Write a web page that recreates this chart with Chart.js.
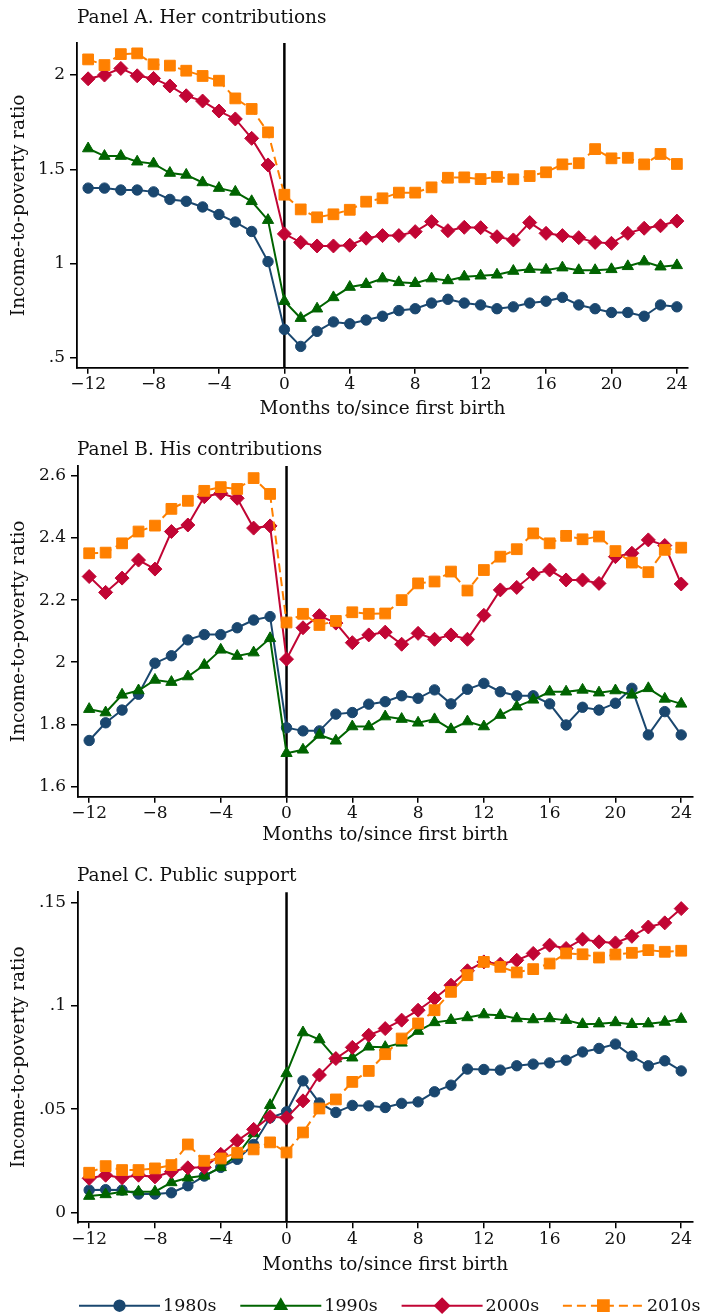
<!DOCTYPE html>
<html>
<head>
<meta charset="utf-8">
<script src="https://cdn.jsdelivr.net/npm/chart.js@4"></script>
<style>
  body { margin: 0; background: #fff; }
  .panel { position: absolute; left: 0; width: 701px; }
</style>
</head>
<body>
<div class="panel" style="top:0;height:425px"><canvas id="chartA"></canvas></div>
<div class="panel" style="top:425px;height:425px"><canvas id="chartB"></canvas></div>
<div class="panel" style="top:850px;height:466px"><canvas id="chartC"></canvas></div>
<script>
// months relative to first birth
const months = [-12, -11, -10, -9, -8, -7, -6, -5, -4, -3, -2, -1, 0, 1, 2, 3, 4, 5, 6, 7, 8, 9, 10, 11, 12, 13, 14, 15, 16, 17, 18, 19, 20, 21, 22, 23, 24];
const seriesNames = ['1980s', '1990s', '2000s', '2010s'];
const xTicks = [-12, -8, -4, 0, 4, 8, 12, 16, 20, 24];

// Panel A: her contributions
const her1980 = [1.40, 1.40, 1.39, 1.39, 1.38, 1.34, 1.33, 1.30, 1.26, 1.22, 1.17, 1.01, 0.65, 0.56, 0.64, 0.69, 0.68, 0.70, 0.72, 0.75, 0.76, 0.79, 0.81, 0.79, 0.78, 0.76, 0.77, 0.79, 0.80, 0.82, 0.78, 0.76, 0.74, 0.74, 0.72, 0.78, 0.77];
const her1990 = [1.61, 1.57, 1.57, 1.54, 1.53, 1.48, 1.47, 1.43, 1.40, 1.38, 1.33, 1.23, 0.80, 0.71, 0.76, 0.82, 0.875, 0.89, 0.92, 0.90, 0.895, 0.92, 0.91, 0.93, 0.935, 0.94, 0.96, 0.97, 0.966, 0.978, 0.964, 0.964, 0.969, 0.985, 1.01, 0.983, 0.99];
const her2000 = [1.98, 2.00, 2.035, 1.996, 1.982, 1.942, 1.89, 1.862, 1.809, 1.767, 1.664, 1.523, 1.157, 1.112, 1.093, 1.093, 1.097, 1.134, 1.148, 1.148, 1.169, 1.222, 1.174, 1.192, 1.19, 1.142, 1.125, 1.217, 1.16, 1.148, 1.137, 1.112, 1.107, 1.16, 1.187, 1.2, 1.225];
const her2010 = [2.083, 2.053, 2.111, 2.115, 2.057, 2.05, 2.023, 1.995, 1.97, 1.876, 1.82, 1.696, 1.365, 1.287, 1.245, 1.261, 1.285, 1.328, 1.346, 1.376, 1.376, 1.404, 1.455, 1.457, 1.448, 1.46, 1.447, 1.464, 1.484, 1.526, 1.532, 1.607, 1.558, 1.561, 1.526, 1.581, 1.528];

// Panel B: his contributions
const his1980 = [1.748, 1.805, 1.846, 1.897, 1.997, 2.021, 2.072, 2.089, 2.089, 2.111, 2.136, 2.147, 1.789, 1.779, 1.779, 1.833, 1.838, 1.865, 1.873, 1.892, 1.884, 1.911, 1.866, 1.913, 1.932, 1.905, 1.892, 1.892, 1.866, 1.798, 1.855, 1.846, 1.868, 1.916, 1.766, 1.841, 1.766];
const his1990 = [1.849, 1.838, 1.895, 1.909, 1.943, 1.936, 1.954, 1.991, 2.04, 2.02, 2.031, 2.077, 1.707, 1.718, 1.766, 1.747, 1.793, 1.793, 1.825, 1.817, 1.805, 1.816, 1.784, 1.809, 1.793, 1.830, 1.857, 1.879, 1.905, 1.905, 1.911, 1.902, 1.909, 1.895, 1.916, 1.882, 1.866];
const his2000 = [2.276, 2.225, 2.271, 2.329, 2.30, 2.421, 2.442, 2.533, 2.544, 2.528, 2.432, 2.439, 2.01, 2.111, 2.15, 2.126, 2.063, 2.088, 2.097, 2.058, 2.093, 2.074, 2.088, 2.074, 2.151, 2.233, 2.241, 2.284, 2.297, 2.265, 2.265, 2.254, 2.34, 2.351, 2.394, 2.376, 2.252];
const his2010 = [2.351, 2.353, 2.383, 2.421, 2.44, 2.494, 2.52, 2.552, 2.564, 2.558, 2.593, 2.542, 2.128, 2.156, 2.12, 2.133, 2.161, 2.156, 2.157, 2.2, 2.254, 2.26, 2.292, 2.231, 2.297, 2.34, 2.364, 2.415, 2.383, 2.407, 2.396, 2.405, 2.358, 2.321, 2.29, 2.362, 2.369];

// Panel C: public support
const pub1980 = [0.0108, 0.011, 0.0108, 0.0089, 0.0089, 0.0095, 0.0129, 0.0176, 0.0218, 0.0257, 0.0329, 0.0458, 0.0487, 0.0637, 0.053, 0.0484, 0.0518, 0.0516, 0.0508, 0.0528, 0.0535, 0.0584, 0.0616, 0.0694, 0.0692, 0.0689, 0.071, 0.0718, 0.0724, 0.0737, 0.0777, 0.0794, 0.0815, 0.0757, 0.071, 0.0734, 0.0685];
const pub1990 = [0.0079, 0.0087, 0.01, 0.01, 0.01, 0.0145, 0.0168, 0.0177, 0.0218, 0.0277, 0.0382, 0.0519, 0.0673, 0.0871, 0.0837, 0.0745, 0.0749, 0.0802, 0.08, 0.0821, 0.0878, 0.092, 0.0931, 0.0944, 0.0958, 0.0955, 0.0939, 0.0934, 0.0939, 0.0931, 0.0911, 0.0914, 0.092, 0.0911, 0.0914, 0.0922, 0.0936];
const pub2000 = [0.0165, 0.018, 0.0168, 0.018, 0.0172, 0.0197, 0.0216, 0.0218, 0.0281, 0.0347, 0.0402, 0.0463, 0.0458, 0.054, 0.0665, 0.0745, 0.0799, 0.0858, 0.089, 0.0931, 0.0979, 0.1036, 0.11, 0.117, 0.1213, 0.1202, 0.1221, 0.1254, 0.1294, 0.1278, 0.1323, 0.131, 0.1305, 0.1337, 0.1382, 0.1402, 0.1471];
const pub2010 = [0.0192, 0.0224, 0.0205, 0.0205, 0.0213, 0.0229, 0.0329, 0.025, 0.0261, 0.0289, 0.0305, 0.0339, 0.029, 0.0387, 0.0503, 0.0547, 0.0632, 0.0685, 0.0766, 0.0842, 0.0915, 0.0979, 0.1068, 0.1149, 0.1213, 0.1189, 0.1162, 0.1178, 0.1205, 0.1254, 0.125, 0.1234, 0.1249, 0.1257, 0.127, 0.1262, 0.1267];

// y tick labels per panel
const yTicksA = [0.5, 1, 1.5, 2];
const yLabelsA = ['.5', '1', '1.5', '2'];
const yTicksB = [1.6, 1.8, 2, 2.2, 2.4, 2.6];
const yLabelsB = ['1.6', '1.8', '2', '2.2', '2.4', '2.6'];
const yTicksC = [0, 0.05, 0.1, 0.15];
const yLabelsC = ['0', '.05', '.1', '.15'];

const FONT = 'DejaVu Serif';
const styles = [
  { color: '#1a476f', point: 'circle', r: 5.2, dash: [] },
  { color: '#006400', point: 'triangle', r: 6.5, dash: [] },
  { color: '#c10534', point: 'rectRot', r: 7, dash: [] },
  { color: '#ff8000', point: 'rect', r: 7.6, dash: [9, 5] }
];

function makeDatasets(seriesList) {
  return seriesList.map((vals, k) => ({
    label: seriesNames[k],
    data: months.map((m, i) => ({ x: m, y: vals[i] })),
    borderColor: styles[k].color,
    backgroundColor: styles[k].color,
    pointBackgroundColor: styles[k].color,
    pointBorderColor: styles[k].color,
    pointBorderWidth: 1,
    pointStyle: styles[k].point,
    pointRadius: styles[k].r,
    pointHoverRadius: styles[k].r,
    borderWidth: 2,
    borderDash: styles[k].dash,
    tension: 0,
    order: 3 - k
  }));
}

// vertical line at month 0 + panel title
const zeroLine = {
  id: 'zeroLine',
  beforeDatasetsDraw(chart) {
    const { ctx, chartArea, scales } = chart;
    const x = scales.x.getPixelForValue(0);
    ctx.save();
    ctx.strokeStyle = '#000';
    ctx.lineWidth = 2.5;
    ctx.beginPath();
    ctx.moveTo(x, chartArea.top);
    ctx.lineTo(x, chartArea.bottom);
    ctx.stroke();
    ctx.restore();
  },
  afterDraw(chart, args, opts) {
    const ctx = chart.ctx;
    ctx.save();
    ctx.fillStyle = '#111';
    ctx.font = '18.5px "' + FONT + '"';
    ctx.textBaseline = 'alphabetic';
    ctx.textAlign = 'left';
    ctx.fillText(opts.text, 77, opts.y);
    ctx.restore();
  }
};

// legend drawn under panel C: line - marker - line, then label
const legendRow = {
  id: 'legendRow',
  afterDraw(chart, args, opts) {
    if (!opts.show) return;
    const ctx = chart.ctx;
    const y = opts.y;
    chart.data.datasets.forEach((ds, k) => {
      const x0 = 79 + k * 161.3;
      ctx.save();
      ctx.strokeStyle = ds.borderColor;
      ctx.lineWidth = 2;
      ctx.setLineDash(ds.borderDash);
      ctx.beginPath();
      ctx.moveTo(x0, y);
      ctx.lineTo(x0 + 81, y);
      ctx.stroke();
      ctx.setLineDash([]);
      ctx.fillStyle = ds.backgroundColor;
      Chart.helpers.drawPoint(ctx, {
        pointStyle: ds.pointStyle, radius: ds.pointRadius, rotation: 0, borderWidth: 1
      }, x0 + 40.5, y);
      ctx.fillStyle = '#111';
      ctx.font = '17.5px "' + FONT + '"';
      ctx.textBaseline = 'middle';
      ctx.textAlign = 'left';
      ctx.fillText(ds.label, x0 + 84, y + 1);
      ctx.restore();
    });
  }
};

function makeChart(id, seriesList, cfg) {
  return new Chart(document.getElementById(id), {
    type: 'line',
    data: { datasets: makeDatasets(seriesList) },
    options: {
      responsive: true,
      maintainAspectRatio: false,
      animation: false,
      layout: { padding: { top: cfg.padTop, right: cfg.padRight, bottom: cfg.padBottom, left: 0 } },
      plugins: {
        legend: { display: false },
        tooltip: { enabled: false },
        zeroLine: { text: cfg.title, y: cfg.titleY },
        legendRow: { show: !!cfg.legendY, y: cfg.legendY }
      },
      scales: {
        x: {
          type: 'linear',
          min: -12.68,
          max: 24.68,
          afterBuildTicks: s => { s.ticks = xTicks.map(v => ({ value: v })); },
          afterFit: s => { s.height = cfg.xHeight; },
          grid: { drawOnChartArea: false, drawTicks: true, tickLength: 6, color: '#000', lineWidth: 1.5 },
          border: { display: true, color: '#000', width: 1.8 },
          ticks: {
            padding: 1,
            color: '#111',
            font: { family: FONT, size: 17, lineHeight: 1.2 },
            maxRotation: 0,
            callback: v => (v < 0 ? '\u2212' + Math.abs(v) : String(v))
          },
          title: {
            display: true,
            text: 'Months to/since first birth',
            color: '#111',
            font: { family: FONT, size: 18.5, lineHeight: 1.2 },
            padding: { top: 4, bottom: 3 }
          }
        },
        y: {
          min: cfg.yMin,
          max: cfg.yMax,
          afterBuildTicks: s => { s.ticks = cfg.yTicks.map(v => ({ value: v })); },
          afterFit: s => { s.width = cfg.yWidth; },
          grid: { drawOnChartArea: false, drawTicks: true, tickLength: 7, color: '#000', lineWidth: 1.5 },
          border: { display: true, color: '#000', width: 1.8 },
          ticks: {
            padding: 5,
            color: '#111',
            font: { family: FONT, size: 17, lineHeight: 1.2 },
            callback: v => cfg.yLabels[cfg.yTicks.indexOf(v)]
          },
          title: {
            display: true,
            text: 'Income-to-poverty ratio',
            color: '#111',
            font: { family: FONT, size: 18.5, lineHeight: 1.2 },
            padding: { top: 8, bottom: 0 }
          }
        }
      }
    },
    plugins: [zeroLine, legendRow]
  });
}

makeChart('chartA', [her1980, her1990, her2000, her2010], {
  title: 'Panel A. Her contributions', titleY: 23,
  padTop: 43, padRight: 13, padBottom: 1.3, xHeight: 56, yWidth: 77,
  yMin: 0.447, yMax: 2.17, yTicks: yTicksA, yLabels: yLabelsA
});
makeChart('chartB', [his1980, his1990, his2000, his2010], {
  title: 'Panel B. His contributions', titleY: 30,
  padTop: 41, padRight: 1, padBottom: 0.3, xHeight: 53, yWidth: 78,
  yMin: 1.567, yMax: 2.632, yTicks: yTicksB, yLabels: yLabelsB
});
makeChart('chartC', [pub1980, pub1990, pub2000, pub2010], {
  title: 'Panel C. Public support', titleY: 30.7,
  padTop: 42.3, padRight: 1, padBottom: 36.3, xHeight: 57.4, yWidth: 78,
  yMin: -0.0048, yMax: 0.155, yTicks: yTicksC, yLabels: yLabelsC,
  legendY: 455.7
});
</script>
</body>
</html>
